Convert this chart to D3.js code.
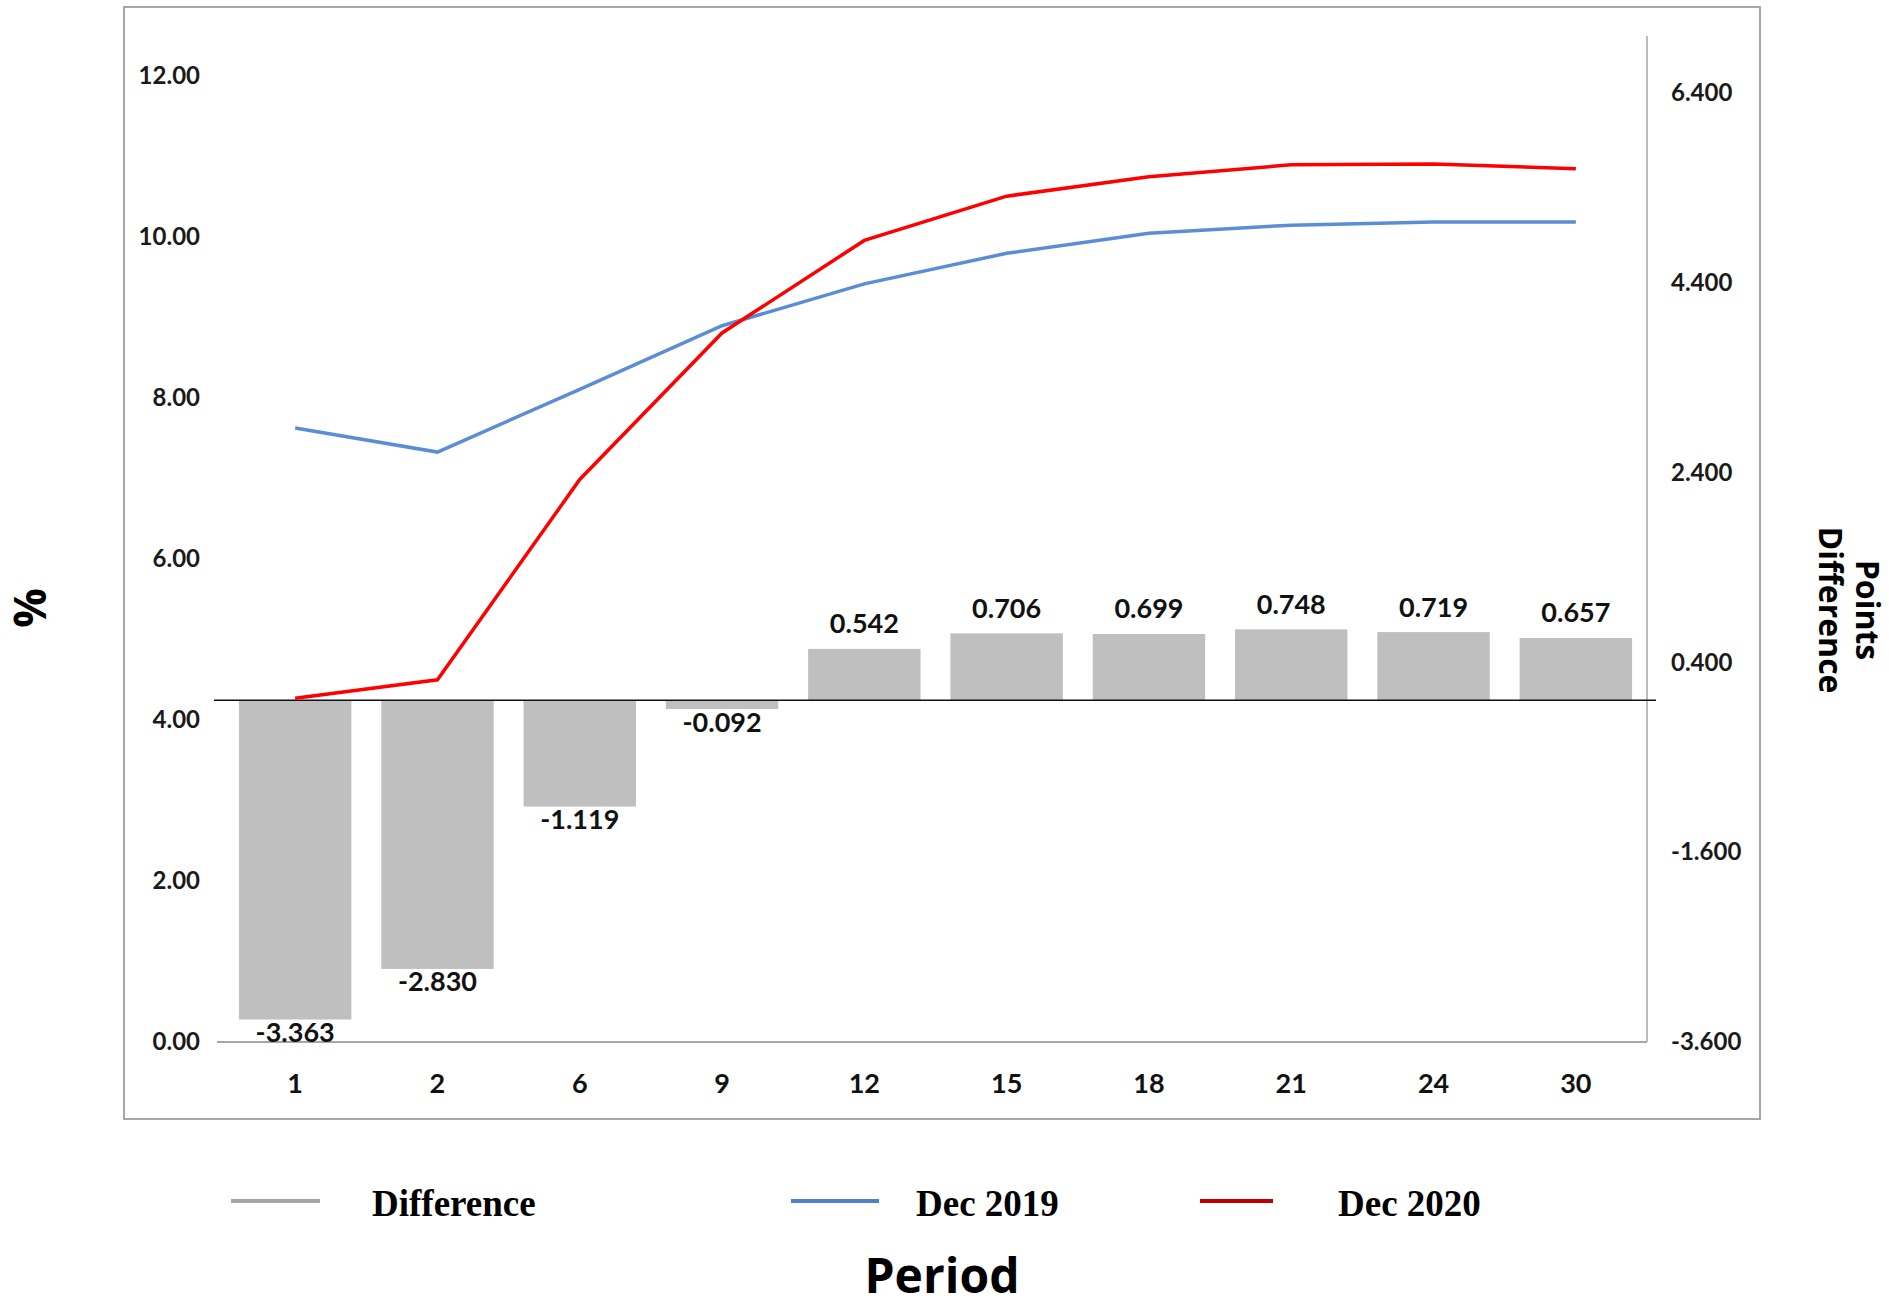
<!DOCTYPE html>
<html>
<head>
<meta charset="utf-8">
<script src="https://cdn.jsdelivr.net/npm/d3@7"></script>
<style>
  body { margin: 0; background: #fff; }
  svg { display: block; }
</style>
</head>
<body>
<svg id="chart" width="1889" height="1309"></svg>
<script>
const categories = ["1", "2", "6", "9", "12", "15", "18", "21", "24", "30"];
const dec2019 = [7.63, 7.33, 8.11, 8.90, 9.42, 9.80, 10.05, 10.15, 10.19, 10.19];
const dec2020 = [4.27, 4.50, 6.99, 8.81, 9.96, 10.51, 10.75, 10.90, 10.91, 10.85];
const difference = [-3.363, -2.830, -1.119, -0.092, 0.542, 0.706, 0.699, 0.748, 0.719, 0.657];
const leftTicks = [0, 2, 4, 6, 8, 10, 12];
const rightTicks = [-3.6, -1.6, 0.4, 2.4, 4.4, 6.4];
const legendItems = ["Difference", "Dec 2019", "Dec 2020"];

const svg = d3.select("#chart");
const numFont = "Lato, 'Open Sans', sans-serif";
const titleFont = "'Open Sans', 'Noto Sans', sans-serif";
const loc = d3.formatLocale({decimal: ".", thousands: ",", grouping: [3], currency: ["", ""], minus: "-"});
const f2 = loc.format(".2f"), f3 = loc.format(".3f");

const plotTop = 36, plotBottom = 1042, plotLeft = 224, plotRight = 1647;

const x = d3.scaleBand().domain(categories).range([plotLeft, plotRight])
  .paddingInner(0.21).paddingOuter(0.105);
const yL = d3.scaleLinear().domain([0, 12.5]).range([plotBottom, plotTop]);
const yR = d3.scaleLinear().domain([-3.6, 7.0]).range([plotBottom, plotTop]);
const cx = c => x(c) + x.bandwidth() / 2;

// outer border
svg.append("rect").attr("x", 124).attr("y", 7).attr("width", 1636).attr("height", 1112)
  .attr("fill", "none").attr("stroke", "#a6a6a6").attr("stroke-width", 2);

// x baseline
svg.append("line").attr("x1", 217).attr("x2", plotRight).attr("y1", plotBottom).attr("y2", plotBottom)
  .attr("stroke", "#a6a6a6").attr("stroke-width", 2);
// right axis line
svg.append("line").attr("x1", plotRight).attr("x2", plotRight).attr("y1", plotTop).attr("y2", plotBottom)
  .attr("stroke", "#a6a6a6").attr("stroke-width", 1.5);

// left axis labels
const leftAxis = d3.axisLeft(yL).tickValues(leftTicks).tickFormat(f2).tickSize(0).tickPadding(0);
const gL = svg.append("g").attr("transform", "translate(200,0)").call(leftAxis);
gL.select(".domain").remove();
gL.selectAll("text").attr("font-family", numFont).attr("font-weight", 700)
  .attr("font-size", 24).attr("fill", "#1a1a1a");

// right axis labels
const rightAxis = d3.axisRight(yR).tickValues(rightTicks).tickFormat(f3).tickSize(0).tickPadding(0);
const gR = svg.append("g").attr("transform", "translate(1671,0)").call(rightAxis);
gR.select(".domain").remove();
gR.selectAll("text").attr("font-family", numFont).attr("font-weight", 700)
  .attr("font-size", 24).attr("fill", "#1a1a1a");

// category labels
const xAxis = d3.axisBottom(x).tickSize(0).tickPadding(0);
const gX = svg.append("g").attr("transform", "translate(0,1084)").call(xAxis);
gX.select(".domain").remove();
gX.selectAll("text").attr("font-family", numFont).attr("font-weight", 700)
  .attr("font-size", 27).attr("fill", "#111").attr("dy", "0.35em");

// bars
svg.append("g").selectAll("rect").data(difference).join("rect")
  .attr("x", (d, i) => x(categories[i]))
  .attr("width", x.bandwidth())
  .attr("y", d => yR(Math.max(0, d)))
  .attr("height", d => Math.abs(yR(d) - yR(0)))
  .attr("fill", "#bfbfbf");

// zero line
svg.append("line").attr("x1", 214).attr("x2", 1656).attr("y1", yR(0)).attr("y2", yR(0))
  .attr("stroke", "#111").attr("stroke-width", 1.5);

// bar labels
svg.append("g").selectAll("text").data(difference).join("text")
  .attr("x", (d, i) => cx(categories[i]))
  .attr("y", d => d < 0 ? yR(d) + 13 : yR(d) - 25)
  .attr("dy", "0.35em")
  .attr("text-anchor", "middle")
  .attr("font-family", numFont).attr("font-weight", 700).attr("font-size", 27)
  .attr("fill", "#111")
  .text(d => f3(d));

// lines
const line = d3.line().x((d, i) => cx(categories[i])).y(d => yL(d));
svg.append("path").datum(dec2019).attr("d", line).attr("fill", "none")
  .attr("stroke", "#5b8dd6").attr("stroke-width", 3.5);
svg.append("path").datum(dec2020).attr("d", line).attr("fill", "none")
  .attr("stroke", "#ff0000").attr("stroke-width", 3.5);

// axis titles
svg.append("text").attr("transform", "translate(31,608) rotate(-90)")
  .attr("text-anchor", "middle").attr("dy", "0.35em")
  .attr("font-family", titleFont).attr("font-weight", 700).attr("font-size", 44).attr("fill", "#000")
  .text("%");
const rt = svg.append("text").attr("transform", "translate(1848,610) rotate(90)")
  .attr("text-anchor", "middle")
  .attr("font-family", titleFont).attr("font-weight", 700).attr("font-size", 32).attr("fill", "#000");
rt.append("tspan").attr("x", 0).attr("dy", "-0.25em").text("Points");
rt.append("tspan").attr("x", 0).attr("dy", "1.15em").text("Difference");

svg.append("text").attr("x", 942).attr("y", 1293).attr("text-anchor", "middle")
  .attr("font-family", titleFont).attr("font-weight", 700).attr("font-size", 48).attr("fill", "#000")
  .text("Period");

// legend
const legendColors = ["#a6a6a6", "#4f81c4", "#c00000"];
const legendLineX = [231, 791, 1200];
const legendLineW = [89, 88, 73];
const legendTextX = [372, 916, 1338];
const lg = svg.append("g");
legendItems.forEach((name, i) => {
  lg.append("line").attr("x1", legendLineX[i]).attr("x2", legendLineX[i] + legendLineW[i])
    .attr("y1", 1201).attr("y2", 1201).attr("stroke", legendColors[i]).attr("stroke-width", 4);
  lg.append("text").attr("x", legendTextX[i]).attr("y", 1203).attr("dy", "0.35em")
    .attr("font-family", "'Liberation Serif', 'DejaVu Serif', serif").attr("font-weight", 700)
    .attr("font-size", 37).attr("fill", "#000").text(name);
});
</script>
</body>
</html>
